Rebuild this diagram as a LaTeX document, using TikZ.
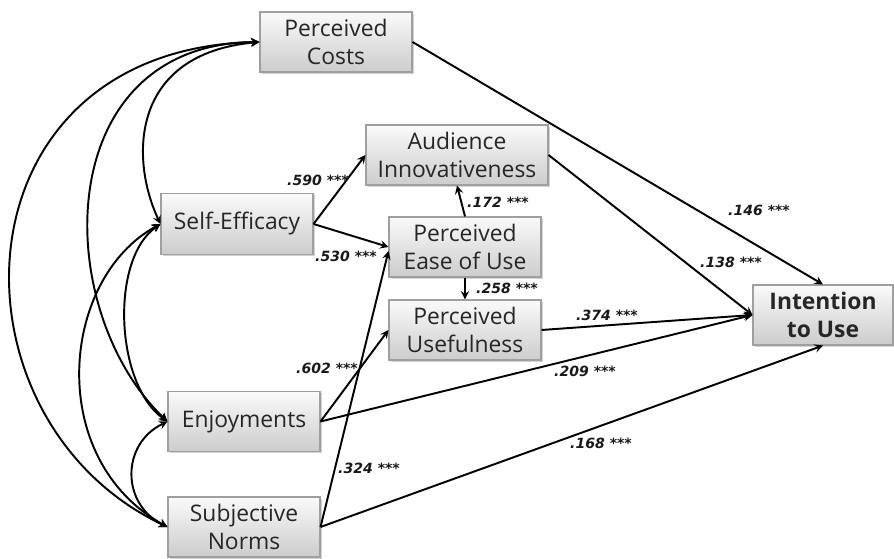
\documentclass[tikz,border=0pt]{standalone}
\usepackage{fontspec}
\setmainfont{Open Sans}
\newfontfamily\coeffont{DejaVu Sans}
\usepackage{tikz}
\usetikzlibrary{shadows}
\tikzset{
  factor/.style={draw=gray!75,line width=0.6pt,top color=gray!4,bottom color=gray!40,
    minimum width=3.04cm,minimum height=1.2cm,inner sep=0pt,align=center,
    font=\fontsize{13}{15.5}\selectfont,text=black!85,
    drop shadow={shadow xshift=1pt,shadow yshift=-1pt,opacity=0.35}},
  coef/.style={font=\coeffont\bfseries\itshape\fontsize{8}{9}\selectfont,text=black!90,inner sep=1pt},
  link/.style={->,>=stealth,line width=1.1pt},
  cov/.style={<->,>=stealth,line width=1.1pt}
}

\begin{document}
\begin{tikzpicture}
        \useasboundingbox (0,0) rectangle (17.88,11.18);
        % Constructs
        \node[factor](costs) at (6.72,10.34){Perceived\\Costs};
        \node[factor,minimum width=3.64cm](aud) at (9.14,8.08){Audience\\Innovativeness};
        \node[factor,minimum height=1.22cm](se) at (4.74,6.70){Self-Efficacy};
        \node[factor](ease) at (9.30,6.24){Perceived\\Ease of Use};
        \node[factor](use) at (9.30,4.58){Perceived\\Usefulness};
        \node[factor,minimum width=2.80cm,font=\fontsize{13}{15.5}\selectfont\bfseries](int) at (16.46,4.88){Intention\\to Use};
        \node[factor](enj) at (4.88,2.75){Enjoyments};
        \node[factor](sn) at (4.88,0.64){Subjective\\Norms};
        % Structural paths
        \draw [link](se.east)--(aud.west);
        \draw [link](se.east)--(ease.west);
        \draw [link](ease.north)--(aud.south);
        \draw [link](ease.south)--(use.north);
        \draw [link](enj.east)--(use.west);
        \draw [link](sn.east)--([yshift=-0.08cm]ease.west);
        \draw [link](costs.east)--(int.north);
        \draw [link](aud.east)--(int.west);
        \draw [link](use.east)--(int.west);
        \draw [link](enj.east)--(int.west);
        \draw [link](sn.east)--(int.south);
        % Path coefficients
        \node[coef](c590) at (6.36,7.58){.590 ***};
        \node[coef](c530) at (6.92,6.06){.530 ***};
        \node[coef](c172) at (9.96,7.14){.172 ***};
        \node[coef](c258) at (10.14,5.42){.258 ***};
        \node[coef](c602) at (6.54,3.82){.602 ***};
        \node[coef](c324) at (7.38,1.82){.324 ***};
        \node[coef](c146) at (15.18,6.98){.146 ***};
        \node[coef](c138) at (14.62,5.94){.138 ***};
        \node[coef](c374) at (12.14,4.88){.374 ***};
        \node[coef](c209) at (11.70,3.76){.209 ***};
        \node[coef](c168) at (12.02,2.32){.168 ***};
        % Correlations among exogenous constructs
        \draw [cov](costs.west) .. controls (2.6,10.1) and (2.6,8.0) .. (se.west);
        \draw [cov](costs.west) .. controls (1.0,10.3) and (1.0,5.0) .. (enj.west);
        \draw [cov](costs.west) .. controls (-1.0,10.2) and (-1.2,2.8) .. (sn.west);
        \draw [cov](se.west) .. controls (2.2,6.0) and (2.3,3.5) .. (enj.west);
        \draw [cov](se.west) .. controls (1.2,5.6) and (0.9,2.0) .. (sn.west);
        \draw [cov](enj.west) .. controls (2.42,2.3) and (2.42,1.1) .. (sn.west);
\end{tikzpicture}
\end{document}
